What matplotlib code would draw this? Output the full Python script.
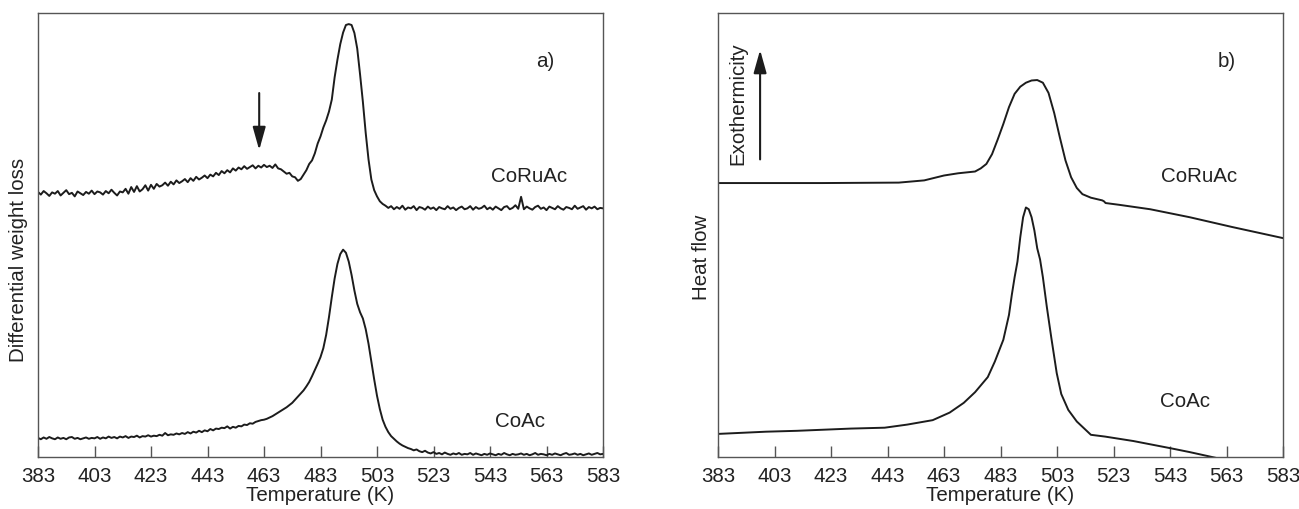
import matplotlib.pyplot as plt
import numpy as np

plt.rcParams['font.family'] = ['Liberation Sans', 'DejaVu Sans']

# temperature grid of the TG traces (K)
temps_a = np.arange(383, 584)

# panel a) differential weight loss, arbitrary units
coruac_a = [
    59.7, 59.1, 59.9, 59.4, 58.8, 59.6, 59.3, 59.9, 58.9, 59.5,  # 383
    60.1, 59.2, 59.5, 58.7, 59.8, 59.4, 59.0, 59.7, 59.3, 60.0,  # 393
    59.2, 59.8, 59.6, 59.1, 59.9, 59.4, 60.2, 59.5, 58.9, 59.8,  # 403
    59.6, 60.4, 59.3, 60.8, 59.7, 61.0, 59.8, 60.3, 61.2, 60.0,  # 413
    61.3, 60.4, 61.5, 60.9, 61.2, 61.8, 61.1, 62.0, 61.4, 62.3,  # 423
    61.7, 62.1, 62.6, 61.9, 62.8, 62.2, 63.1, 62.5, 62.9, 63.4,  # 433
    62.8, 63.6, 63.2, 64.0, 63.5, 64.4, 63.9, 64.6, 64.1, 65.0,  # 443
    64.5, 65.2, 64.8, 65.5, 64.9, 65.3, 65.7, 65.0, 65.6, 65.2,  # 453
    65.8, 65.3, 65.6, 65.1, 65.9, 65.0, 64.8, 64.3, 63.8, 64.0,  # 463
    63.2, 63.0, 62.2, 62.6, 63.6, 64.6, 66.0, 66.8, 68.4, 70.6,  # 473
    72.2, 74.2, 75.8, 77.8, 80.5, 85.5, 89.5, 93.0, 95.6, 97.3,  # 483
    97.5, 97.3, 95.5, 92.0, 86.2, 80.0, 73.0, 67.0, 62.5, 60.1,  # 493
    58.7, 57.6, 57.0, 56.6, 56.1, 56.5, 55.8, 56.3, 55.9, 56.6,  # 503
    55.7, 56.2, 56.0, 56.5, 55.6, 56.3, 56.1, 55.7, 56.4, 55.9,  # 513
    56.2, 55.6, 56.3, 56.0, 55.8, 56.5, 55.9, 56.2, 55.6, 56.1,  # 523
    56.4, 55.8, 56.0, 56.5, 55.7, 56.3, 55.9, 56.1, 56.6, 55.8,  # 533
    56.2, 55.7, 56.4, 56.0, 55.6, 56.3, 56.5, 55.8, 56.1, 56.7,  # 543
    55.9, 58.6, 55.8, 56.4, 56.0, 55.7, 56.3, 56.6, 55.9, 56.2,  # 553
    55.6, 56.4, 56.1, 55.8, 56.5, 56.0, 55.7, 56.3, 56.1, 55.8,  # 563
    56.6, 55.9, 56.2, 56.5, 55.7, 56.3, 56.0, 56.4, 55.8, 56.1,  # 573
    56.0,                                                        # 583
]
coac_a = [
    4.3, 4.0, 4.4, 4.1, 4.5, 4.2, 4.0, 4.4, 4.1, 4.3,  # 383
    4.0, 4.4, 4.5, 4.1, 4.3, 4.0, 4.2, 4.4, 4.1, 4.3,  # 393
    4.2, 4.5, 4.1, 4.4, 4.2, 4.6, 4.3, 4.5, 4.2, 4.6,  # 403
    4.4, 4.7, 4.3, 4.6, 4.5, 4.8, 4.4, 4.7, 4.6, 4.9,  # 413
    4.6, 4.8, 4.7, 5.0, 4.8, 5.4, 4.9, 5.1, 5.0, 5.3,  # 423
    5.1, 5.4, 5.2, 5.6, 5.3, 5.7, 5.5, 5.9, 5.6, 6.0,  # 433
    5.8, 6.3, 6.0, 6.4, 6.3, 6.6, 6.5, 6.9, 6.4, 6.8,  # 443
    6.6, 7.0, 6.9, 7.3, 7.2, 7.6, 7.5, 7.9, 8.1, 8.3,  # 453
    8.4, 8.6, 8.9, 9.2, 9.6, 10.0, 10.4, 10.8, 11.2, 11.7,  # 463
    12.2, 12.9, 13.6, 14.3, 15.0, 15.9, 16.9, 18.2, 19.6, 21.0,  # 473
    22.5, 24.5, 27.5, 31.5, 36.0, 40.2, 43.5, 45.7, 46.7, 46.0,  # 483
    44.0, 41.0, 37.5, 34.5, 32.6, 31.2, 28.8, 25.5, 21.5, 17.5,  # 493
    13.8, 10.8, 8.4, 6.8, 5.6, 4.7, 4.1, 3.5, 3.0, 2.6,  # 503
    2.3, 2.0, 1.8, 1.5, 1.7, 1.3, 1.1, 1.4, 1.0, 0.8,  # 513
    1.1, 0.7, 0.9, 0.6, 1.0, 0.7, 0.5, 0.8, 0.6, 0.9,  # 523
    0.5, 0.7, 0.6, 0.9, 0.5, 0.8, 0.6, 0.4, 0.7, 0.5,  # 533
    0.8, 0.6, 0.4, 0.7, 0.5, 0.9, 0.6, 0.4, 0.7, 0.5,  # 543
    0.6, 0.8, 0.5, 0.7, 0.4, 0.6, 0.9, 0.5, 0.7, 0.6,  # 553
    0.4, 0.7, 0.5, 0.8, 0.6, 0.4, 0.7, 0.9, 0.5, 0.6,  # 563
    0.8, 0.5, 0.7, 0.4, 0.6, 0.8, 0.5, 0.7, 0.9, 0.6,  # 573
    0.7,                                              # 583
]

# panel b) DSC heat flow, arbitrary units
coruac_b_T = [383, 420, 447, 456, 463, 468, 471, 474, 476, 478, 480, 482, 484, 486,
              488, 490, 492, 494, 496, 498, 500, 502, 504, 506, 508, 510, 512, 515,
              519, 519.6, 520.2, 525, 536, 550, 565, 583]
coruac_b = [61.7, 61.7, 61.8, 62.3, 63.4, 63.9, 64.1, 64.3, 65.0, 66.0, 68.2, 71.5, 75.0, 78.8,
            81.8, 83.4, 84.3, 84.8, 84.9, 84.3, 82.0, 77.5, 72.0, 66.8, 63.0, 60.6, 59.2, 58.4,
            57.8, 57.6, 57.2, 56.8, 55.8, 54.0, 51.8, 49.3]

coac_b_T = [383, 400, 411, 430, 442, 450, 459, 465, 470, 474, 478.5, 481, 484, 486,
            487, 488, 489, 490, 491, 492, 493, 494, 495, 496, 497, 498, 499.4, 501,
            502.9, 504.5, 507, 510, 515, 520, 530, 543, 550, 560, 583]
coac_b = [5.2, 5.7, 5.9, 6.4, 6.6, 7.3, 8.3, 10.0, 12.2, 14.6, 18.0, 21.5, 26.4, 32.0,
          36.5, 40.5, 44.0, 49.5, 54.0, 56.2, 55.8, 54.0, 51.0, 47.0, 44.5, 40.5, 33.8, 26.8,
          18.9, 14.2, 10.6, 8.0, 5.0, 4.6, 3.6, 2.0, 1.1, -0.3, -3.5]

tick_temps = np.arange(383, 584, 20)
line_col = '#1c1c1c'
frame_col = '#555555'
text_col = '#222222'
fs = 14.8

fig = plt.figure(figsize=(12.99, 5.09), dpi=100)
ax_a = fig.add_axes([38 / 1299, 52 / 509, 565 / 1299, 444 / 509])
ax_b = fig.add_axes([718 / 1299, 52 / 509, 565 / 1299, 444 / 509])

for ax in (ax_a, ax_b):
    ax.set_xlim(383, 583)
    ax.set_ylim(0, 100)
    ax.set_xticks(tick_temps)
    ax.set_yticks([])
    ax.tick_params(axis='x', direction='in', length=8, width=1, color=frame_col,
                   pad=7, labelsize=fs, labelcolor=text_col)
    for s in ax.spines.values():
        s.set_color(frame_col)
        s.set_linewidth(1.0)
    ax.set_xlabel('Temperature (K)', fontsize=fs, color=text_col, labelpad=0)

# a) TG derivative
ax_a.plot(temps_a, coruac_a, color=line_col, lw=1.4)
ax_a.plot(temps_a, coac_a, color=line_col, lw=1.4)
ax_a.annotate('', xy=(461.3, 68.5), xytext=(461.3, 82.6),
              arrowprops=dict(arrowstyle='-|>,head_length=1.0,head_width=0.28',
                              mutation_scale=14, color=line_col, lw=1.5))
ax_a.text(562.7, 89.0, 'a)', fontsize=fs, ha='center', va='center', color=text_col)
ax_a.text(557, 63.1, 'CoRuAc', fontsize=fs, ha='center', va='center', color=text_col)
ax_a.text(553.6, 7.9, 'CoAc', fontsize=fs, ha='center', va='center', color=text_col)
ax_a.set_ylabel('Differential weight loss', fontsize=fs, color=text_col)
ax_a.yaxis.set_label_coords(-0.018, 0.444)

# b) DSC
ax_b.plot(coruac_b_T, coruac_b, color=line_col, lw=1.4)
ax_b.plot(coac_b_T, coac_b, color=line_col, lw=1.4)
ax_b.annotate('', xy=(397.9, 92.3), xytext=(397.9, 66.4),
              arrowprops=dict(arrowstyle='-|>,head_length=1.0,head_width=0.28',
                              mutation_scale=14, color=line_col, lw=1.5))
ax_b.text(390.1, 79.5, 'Exothermicity', fontsize=fs, rotation=90,
          ha='center', va='center', color=text_col)
ax_b.text(563, 89.0, 'b)', fontsize=fs, ha='center', va='center', color=text_col)
ax_b.text(553.2, 63.1, 'CoRuAc', fontsize=fs, ha='center', va='center', color=text_col)
ax_b.text(548.3, 12.4, 'CoAc', fontsize=fs, ha='center', va='center', color=text_col)
ax_b.set_ylabel('Heat flow', fontsize=fs, color=text_col)
ax_b.yaxis.set_label_coords(-0.012, 0.45)

fig.savefig('out.png', dpi=100)
